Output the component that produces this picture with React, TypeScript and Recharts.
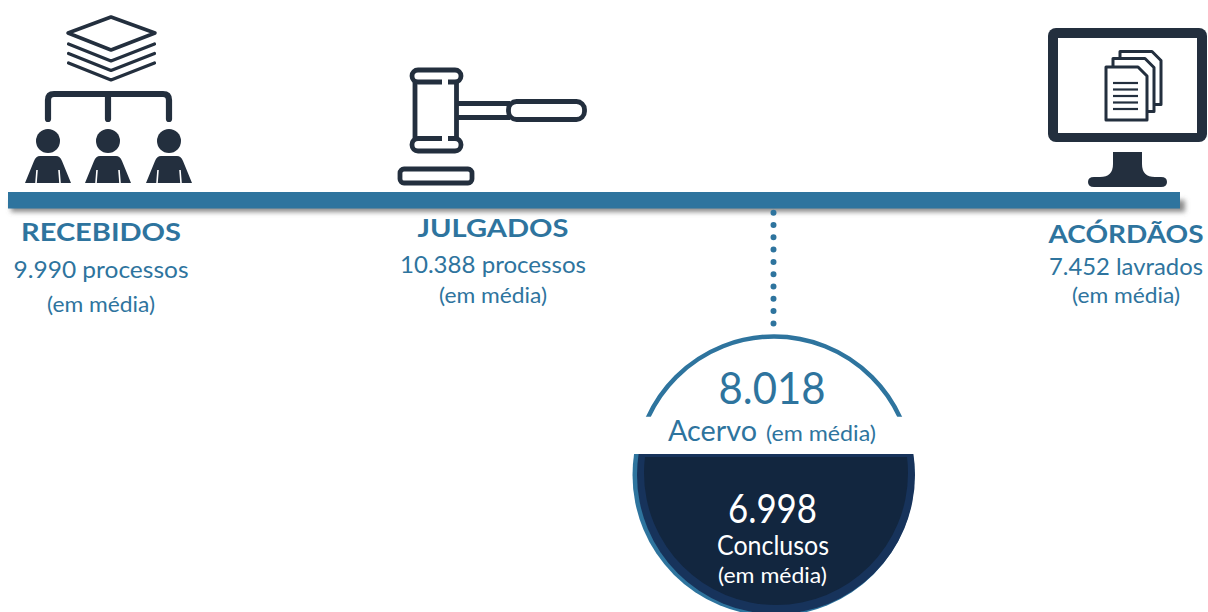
import { ScatterChart, Scatter, XAxis, YAxis, ReferenceArea, ReferenceLine } from "recharts";

const stageNames = ["RECEBIDOS", "JULGADOS", "ACÓRDÃOS"];
const stageValues = [9990, 10388, 7452];
const stageUnits = ["processos", "processos", "lavrados"];
const averageNote = "(em média)";

const hubNames = ["Acervo", "Conclusos"];
const hubValues = [8018, 6998];

const BLUE = "#2e749e";
const DARK = "#232f3e";
const NAVY = "#12263f";
const FONT = "Lato, 'Open Sans', sans-serif";

// layout only, the chart axes are plain page pixels
const WIDTH = 1208;
const HEIGHT = 612;
const stageAnchors = [
  { x: 101, y: 200, nameY: 241, valueY: 278, noteY: 312, nameW: 160, valueW: 175 },
  { x: 493, y: 200, nameY: 236.5, valueY: 273, noteY: 303, nameW: 151, valueW: 186 },
  { x: 1126, y: 200, nameY: 243, valueY: 275, noteY: 303, nameW: 155, valueW: 154 },
];
const hubCenter = { x: 774, y: 475 };

const fmt = (v: number) => String(v).replace(/\B(?=(\d{3})+$)/g, ".");

const stageData = stageNames.map((name, i) => ({
  name,
  value: stageValues[i],
  unit: stageUnits[i],
  ...stageAnchors[i],
  index: i,
}));
const hubData = [{ x: hubCenter.x, y: hubCenter.y }];

const PeopleIcon = () => {
  const heads = [48, 108, 169];
  return (
    <g fill={DARK} stroke="none">
      <path d="M68 33 L111 17 L155 33 L111 50 Z" fill="none" stroke={DARK} strokeWidth={3.5} strokeLinejoin="round" />
      {[44, 53.5, 63].map((y) => (
        <path key={y} d={`M68.5 ${y} L111 ${y + 17} L154.5 ${y}`} fill="none" stroke={DARK} strokeWidth={3.2} strokeLinecap="round" strokeLinejoin="round" />
      ))}
      <path d="M48 119 V100 Q48 94 54 94 H163 Q169 94 169 100 V119 M108 94 V119" fill="none" stroke={DARK} strokeWidth={6.2} strokeLinecap="round" />
      {heads.map((cx) => (
        <g key={cx}>
          <circle cx={cx} cy={141} r={12} />
          <path d={`M${cx - 23} 183 L${cx - 14} 161 Q${cx - 12} 156 ${cx - 8} 156 H${cx + 8} Q${cx + 12} 156 ${cx + 14} 161 L${cx + 23} 183 Z`} />
          <path d={`M${cx - 11} 170 L${cx - 12} 183 M${cx + 11} 170 L${cx + 12} 183`} stroke="#fff" strokeWidth={1.6} fill="none" />
        </g>
      ))}
    </g>
  );
};

const GavelIcon = () => (
  <g fill="none" stroke={DARK} strokeWidth={4.8}>
    <path d="M457 103.5 H510 M457 117.5 H510" />
    <rect x={508.5} y={101.5} width={76} height={18} rx={8} fill="#fff" />
    <path d="M415 82 V138 M456.5 82 V138" />
    <rect x={412} y={70} width={49} height={12} rx={6} fill="#fff" />
    <rect x={412} y={138.5} width={49} height={12.5} rx={6} fill="#fff" />
    <rect x={442} y={79} width={6} height={6} fill="#fff" stroke="none" />
    <rect x={442} y={136} width={6} height={5} fill="#fff" stroke="none" />
    <rect x={400} y={169} width={72} height={14} rx={4} />
  </g>
);

const Page = ({ x, y }: { x: number; y: number }) => (
  <path
    d={`M${x} ${y} H${x + 32} L${x + 41} ${y + 9} V${y + 53} H${x} Z`}
    fill="#fff"
    stroke={DARK}
    strokeWidth={3}
    strokeLinejoin="round"
  />
);

const MonitorIcon = () => (
  <g>
    <rect x={1048} y={28} width={159} height={114} rx={8} fill={DARK} />
    <rect x={1058} y={38} width={139} height={95} fill="#fff" />
    <path d="M1113 152 H1142 V164 Q1142 177 1155 177 H1161 Q1167 177 1167 182 Q1167 187 1161 187 H1094 Q1088 187 1088 182 Q1088 177 1094 177 H1100 Q1113 177 1113 164 Z" fill={DARK} />
    <Page x={1120} y={51.5} />
    <Page x={1113} y={58.5} />
    <Page x={1106} y={67} />
    {[83, 89.5, 96, 102.5, 109].map((y) => (
      <path key={y} d={`M1113 ${y} H1138`} stroke={DARK} strokeWidth={2.2} />
    ))}
  </g>
);

const icons = [PeopleIcon, GavelIcon, MonitorIcon];

const StageMark = (props: any) => {
  const { payload } = props;
  const Icon = icons[payload.index];
  return (
    <g fontFamily={FONT} fill={BLUE} textAnchor="middle">
      <Icon />
      <text x={payload.x} y={payload.nameY} fontSize={25} fontWeight={700} textLength={payload.nameW} lengthAdjust="spacingAndGlyphs">
        {payload.name}
      </text>
      <text x={payload.x} y={payload.valueY} fontSize={24} textLength={payload.valueW} lengthAdjust="spacingAndGlyphs">
        {`${fmt(payload.value)} ${payload.unit}`}
      </text>
      <text x={payload.x} y={payload.noteY} fontSize={22} textLength={108} lengthAdjust="spacingAndGlyphs">
        {averageNote}
      </text>
    </g>
  );
};

const HubMark = (props: any) => {
  const { cx, cy } = props;
  return (
    <g fontFamily={FONT} textAnchor="middle">
      <circle cx={cx} cy={cy} r={138.5} fill="none" stroke={BLUE} strokeWidth={4.5} clipPath="url(#hubTop)" />
      <g clipPath="url(#hubBottom)">
        <circle cx={cx - 0.5} cy={cy} r={141} fill={BLUE} />
        <circle cx={cx + 2} cy={cy} r={139} fill="#17335b" />
        <circle cx={cx + 2} cy={cy - 2} r={132} fill={NAVY} clipPath="url(#hubFill)" />
      </g>
      <text x={772} y={404} fontSize={44} fill={BLUE} textLength={107} lengthAdjust="spacingAndGlyphs">{fmt(hubValues[0])}</text>
      <text x={712.5} y={441} fontSize={29} fill={BLUE} textLength={89} lengthAdjust="spacingAndGlyphs">{hubNames[0]}</text>
      <text x={821} y={441} fontSize={22} fill={BLUE} textLength={110} lengthAdjust="spacingAndGlyphs">{averageNote}</text>
      <text x={772.5} y={523} fontSize={40} fill="#fff" textLength={89} lengthAdjust="spacingAndGlyphs">{fmt(hubValues[1])}</text>
      <text x={773} y={555} fontSize={26} fill="#fff" textLength={112} lengthAdjust="spacingAndGlyphs">{hubNames[1]}</text>
      <text x={772.5} y={583} fontSize={22} fill="#fff" textLength={109} lengthAdjust="spacingAndGlyphs">{averageNote}</text>
    </g>
  );
};

const App = () => (
  <div style={{ position: "absolute", left: 0, top: 0, width: WIDTH, height: HEIGHT, background: "#fff" }}>
    <ScatterChart width={WIDTH} height={HEIGHT} margin={{ top: 0, right: 0, bottom: 0, left: 0 }}>
      <defs>
        <filter id="barShadow" x="-5%" y="-100%" width="110%" height="300%">
          <feGaussianBlur stdDeviation="2.6" />
        </filter>
        <clipPath id="hubTop">
          <rect x={600} y={320} width={350} height={96.7} />
        </clipPath>
        <clipPath id="hubBottom">
          <rect x={600} y={454} width={350} height={170} />
        </clipPath>
        <clipPath id="hubFill">
          <rect x={600} y={457} width={350} height={170} />
        </clipPath>
      </defs>
      <XAxis type="number" dataKey="x" domain={[0, WIDTH]} hide />
      <YAxis type="number" dataKey="y" domain={[0, HEIGHT]} reversed hide />
      <ReferenceArea x1={11} x2={1185} y1={200} y2={212} fill="#666" fillOpacity={0.75} stroke="none" filter="url(#barShadow)" />
      <ReferenceArea x1={8} x2={1180} y1={192} y2={208.5} fill={BLUE} fillOpacity={1} stroke="none" />
      <ReferenceLine
        segment={[{ x: 773.5, y: 212.7 }, { x: 773.5, y: 325 }]}
        stroke={BLUE}
        strokeWidth={6}
        strokeDasharray="0 12.3"
        strokeLinecap="round"
      />
      <Scatter data={stageData} dataKey="y" isAnimationActive={false} shape={StageMark} />
      <Scatter data={hubData} dataKey="y" isAnimationActive={false} shape={HubMark} />
    </ScatterChart>
  </div>
);

export default App;
